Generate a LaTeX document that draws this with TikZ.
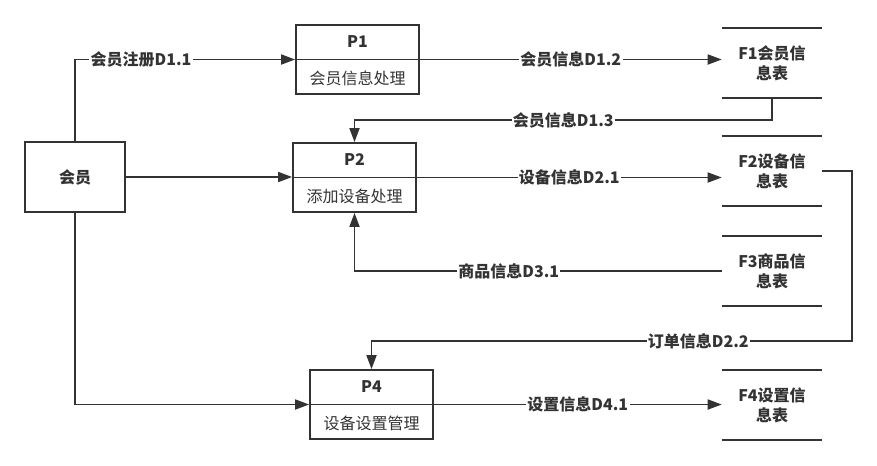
\documentclass[tikz,border=0pt]{standalone}
\usepackage{fontspec}
\setmainfont{Noto Sans CJK SC}
\usetikzlibrary{arrows.meta,calc}
\definecolor{ink}{HTML}{333333}
\tikzset{
  ln/.style={draw=ink, line width=1.3pt},
  arr/.style={ln, -{Triangle[length=10.5pt,width=7.5pt]}},
  entity/.style={ln, minimum width=75pt, minimum height=52.5pt, inner sep=0pt, font=\bfseries\fontsize{12}{14}\selectfont, text=ink},
  proc/.style={ln, minimum width=92.25pt, minimum height=51.75pt, inner sep=0pt},
  ptitle/.style={font=\bfseries\fontsize{12}{14}\selectfont, text=ink, inner sep=0pt},
  psub/.style={font=\fontsize{12}{14}\selectfont, text=ink, inner sep=0pt},
  store/.style={minimum width=75pt, minimum height=52.5pt, inner sep=0pt, align=center, font=\bfseries\fontsize{12}{15}\selectfont, text=ink},
  lbl/.style={fill=white, inner sep=1pt, font=\bfseries\fontsize{12}{14}\selectfont, text=ink},
}
\begin{document}
\begin{tikzpicture}[x={(0.75pt,0)}, y={(0,-0.75pt)}]
\useasboundingbox (0,0) rectangle (877,465);
% external entity
\node[entity] (member) at (75,177) {会员};
% processes
\node[proc] (p1) at (357.5,59.5) {};
\draw[ln] (p1.west) -- (p1.east);
\node[ptitle] (p1t) at (357.5,42) {P1};
\node[psub] (p1b) at (357.5,78) {会员信息处理};
\node[proc] (p2) at (354.5,177.5) {};
\draw[ln] (p2.west) -- (p2.east);
\node[ptitle] (p2t) at (354.5,160) {P2};
\node[psub] (p2b) at (354.5,196) {添加设备处理};
\node[proc] (p4) at (371.5,404.5) {};
\draw[ln] (p4.west) -- (p4.east);
\node[ptitle] (p4t) at (371.5,387) {P4};
\node[psub] (p4b) at (371.5,423) {设备设置管理};
% stores
\node[store] (f1) at (772,63) {F1会员信\\息表};
\node[store] (f2) at (772,171) {F2设备信\\息表};
\node[store] (f3) at (772,271) {F3商品信\\息表};
\node[store] (f4) at (772,405) {F4设置信\\息表};
\foreach \s in {f1,f2,f3,f4}{
  \draw[ln] (\s.north west) -- (\s.north east);
  \draw[ln] (\s.south west) -- (\s.south east);
}
% flows
\draw[arr] (member.north) |- node[lbl,pos=0.65]{会员注册D1.1} (p1.west);
\draw[arr] (p1.east) -- node[lbl]{会员信息D1.2} (p1.east -| f1.west);
\draw[arr] (f1.south) -- ++(0,22) -| node[lbl,pos=0.25]{会员信息D1.3} (p2.north);
\draw[arr] (member.east) -- (member.east -| p2.west);
\draw[arr] (p2.east) -- node[lbl]{设备信息D2.1} (p2.east -| f2.west);
\draw[arr] (f3.west) -| node[lbl,pos=0.29]{商品信息D3.1} (p2.south);
\coordinate (k) at (852,341);
\draw[arr] (f2.east) -| (k) -| node[lbl,pos=0.16]{订单信息D2.2} (p4.north);
\draw[arr] (member.south) |- (p4.west);
\draw[arr] (p4.east) -- node[lbl]{设置信息D4.1} (p4.east -| f4.west);
\end{tikzpicture}
\end{document}
